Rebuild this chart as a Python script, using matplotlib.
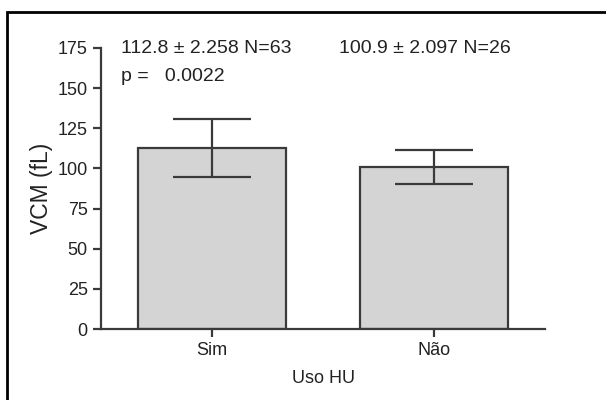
import matplotlib
matplotlib.use("Agg")
import matplotlib.pyplot as plt
from matplotlib.patches import Rectangle
import numpy as np

categories = ["Sim", "Não"]
means = [112.8, 100.9]
sems = [2.258, 2.097]
ns = [63, 26]
p_value = "0.0022"
yticks = [0, 25, 50, 75, 100, 125, 150, 175]

sds = [s * np.sqrt(n) for s, n in zip(sems, ns)]

plt.rcParams['font.family'] = ['Liberation Sans', 'DejaVu Sans']
dark = "#3a3a3a"

fig = plt.figure(figsize=(6.06, 4.0), dpi=100)
ax = fig.add_axes([101/606, 1-329/400, 444/606, 281/400])

x = np.arange(len(categories))
ax.bar(x, means, width=0.667, color="#d4d4d4", edgecolor=dark, linewidth=1.6, zorder=2)
ax.errorbar(x, means, yerr=sds, fmt='none', ecolor=dark, elinewidth=1.6,
            capsize=28, capthick=1.6, zorder=3)

ax.set_xlim(-0.5, 1.5)
ax.set_ylim(0, 175)
ax.set_yticks(yticks)
ax.set_xticks(x)
ax.set_xticklabels(categories)
for s in ["top", "right"]:
    ax.spines[s].set_visible(False)
for s in ["left", "bottom"]:
    ax.spines[s].set_color(dark)
    ax.spines[s].set_linewidth(1.6)
ax.tick_params(axis='both', colors=dark, labelcolor="#222222", labelsize=13,
               width=1.6, length=6)
ax.set_ylabel("VCM (fL)", fontsize=16.5, color="#222222", labelpad=3)
ax.set_xlabel("Uso HU", fontsize=13, color="#222222", labelpad=8)

ax.text(0.045, 0.997, f"{means[0]} ± {sems[0]} N={ns[0]}", transform=ax.transAxes,
        fontsize=14, color="#222222", ha="left", va="center")
ax.text(0.045, 0.90, f"p =   {p_value}", transform=ax.transAxes,
        fontsize=14, color="#222222", ha="left", va="center")
ax.text(0.537, 0.997, f"{means[1]} ± {sems[1]} N={ns[1]}", transform=ax.transAxes,
        fontsize=14, color="#222222", ha="left", va="center")

fig.patches.append(Rectangle((7/606, -0.1), 1.2, 1 - 12/400 + 0.1, transform=fig.transFigure,
                             fill=False, edgecolor="black", linewidth=2))

fig.savefig("out.png", dpi=100)
